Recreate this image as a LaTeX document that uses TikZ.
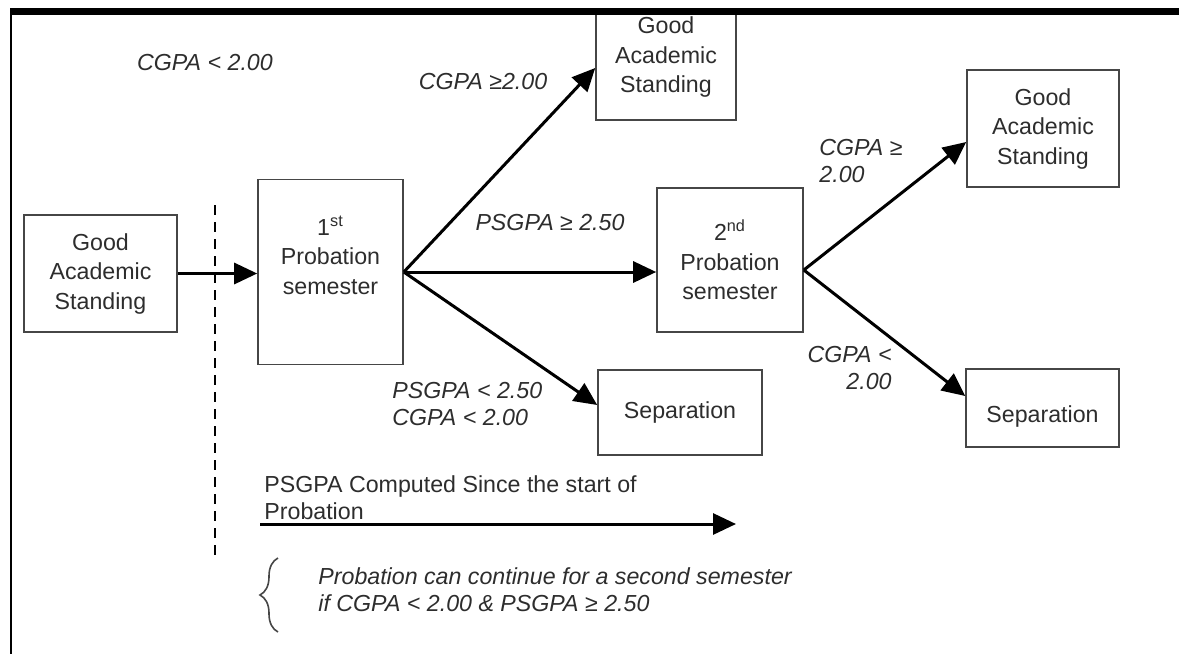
\documentclass[tikz,border=0pt]{standalone}
\usepackage{fontspec}
\setmainfont{Liberation Sans}
\usepackage{xcolor}
\usetikzlibrary{arrows.meta, positioning, calc, decorations.pathreplacing}
\definecolor{boxgray}{RGB}{70,70,70}
\definecolor{txtgray}{RGB}{45,45,45}

\begin{document}
\begin{tikzpicture}[
    x=0.5pt, y=-0.5pt, % one unit = one pixel of the sheet
    box/.style={
        rectangle,
        draw=boxgray,
        line width=0.8pt,
        align=center,
        inner sep=0pt,
        text=txtgray,
        font=\fontsize{11.6}{14.75}\selectfont
    },
    cond/.style={
        align=left,
        inner sep=0pt,
        text=txtgray,
        font=\fontsize{11.6}{13.5}\selectfont\itshape
    },
    arrow/.style={line width=1.5pt, -{Triangle[length=11.5pt,width=10.5pt]}},
    cut/.style={line width=1pt, dash pattern=on 5pt off 3.5pt}
]
\useasboundingbox (0,0) rectangle (1179,654);
\clip (0,0) rectangle (1179,654);

% ========== boxes ==========
\node[box, minimum width=76.5pt, minimum height=58.5pt] (goodL) at (100.5,273.5) {Good\\Academic\\Standing};
\node[box, minimum width=72.5pt, minimum height=92.5pt, text depth=17pt] (prob1) at (330.5,272) {1\textsuperscript{st}\\Probation\\semester};
\node[box, minimum width=70pt, minimum height=54pt, text depth=11.4pt] (goodT) at (666,66) {Good\\Academic\\Standing};
\node[box, minimum width=73pt, minimum height=72pt] (prob2) at (730,260) {2\textsuperscript{nd}\\Probation\\semester};
\node[box, minimum width=82pt, minimum height=42.5pt] (sep1) at (680,412.5) {Separation};
\node[box, minimum width=76pt, minimum height=58.5pt] (goodR) at (1043,128.5) {Good\\Academic\\Standing};
\node[box, minimum width=76.5pt, minimum height=39pt, text height=17pt] (sep2) at (1042.5,408) {Separation};

% ========== arrows ==========
\draw[arrow] (goodL.east) -- (goodL.east -| prob1.west);
\draw[arrow] (prob1.east) -- ([yshift=-1pt]goodT.west);
\draw[arrow] (prob1.east) -- (prob1.east -| prob2.west);
\draw[arrow] (prob1.east) -- ([yshift=3.75pt]sep1.west);

\coordinate (fork2) at ([yshift=-5pt]prob2.east);
\draw[arrow] (fork2) -- ([yshift=-6.75pt]goodR.west);
\draw[arrow] (fork2) -- ([yshift=6pt]sep2.west);

% ========== conditions ==========
\node[cond] (lblEntry) at (205,63) {CGPA < 2.00};
\node[cond] (lblUp1) at (483,82) {CGPA ≥2.00};
\node[cond] (lblMid1) at (550,223) {PSGPA ≥ 2.50};
\node[cond, anchor=west] (lblDown1) at (392,404) {PSGPA < 2.50\\CGPA < 2.00};
\node[cond, anchor=west] (lblUp2) at (819,161) {CGPA ≥\\2.00};
\node[cond, anchor=east, align=right] (lblDown2) at (892,368) {CGPA <\\2.00};

% ========== cut line ==========
\coordinate (cutTop) at (215,205);
\coordinate (cutBot) at (215,555);
\draw[cut] (cutTop) -- (cutBot);

% ========== time line ==========
\coordinate (tStart) at (260,524);
\coordinate (tEnd) at (736,524);
\draw[arrow] (tStart) -- (tEnd);
\node[cond, font=\fontsize{11.6}{13.5}\selectfont, anchor=west] (tText) at (264,498) {PSGPA Computed Since the start of\\Probation};

% ========== note ==========
\coordinate (brBot) at (278,632);
\coordinate (brTop) at (278,558);
\draw[decorate, decoration={brace, amplitude=9pt}, line width=0.8pt, boxgray] (brBot) -- (brTop);
\node[cond, anchor=west] (noteText) at (318,590) {Probation can continue for a second semester\\if CGPA < 2.00 \& PSGPA ≥ 2.50};

% ========== frame ==========
\draw[line width=3.5pt] (10,11.5) -- (1179,11.5);
\draw[line width=1.3pt] (11,8) -- (11,654);

\end{tikzpicture}
\end{document}
